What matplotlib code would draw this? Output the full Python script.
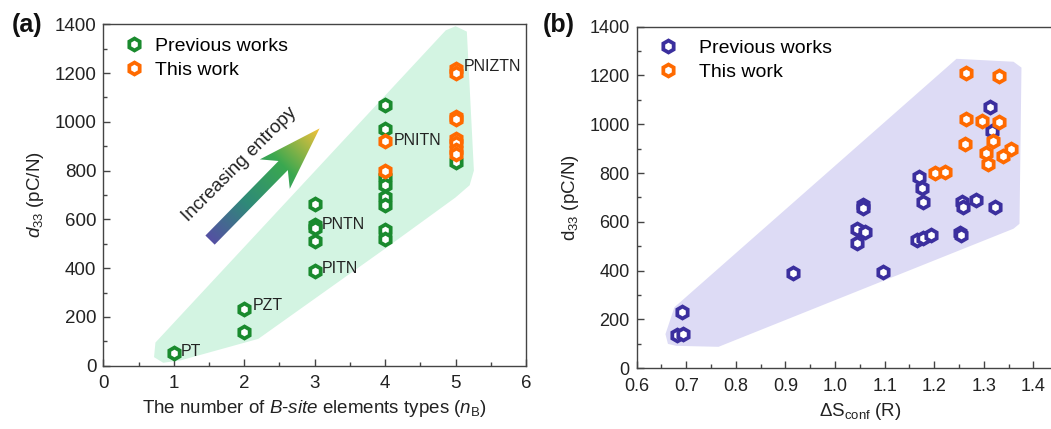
import matplotlib
matplotlib.use("Agg")
import matplotlib.pyplot as plt
import numpy as np
from matplotlib.patches import Polygon
from matplotlib.colors import LinearSegmentedColormap
from matplotlib.ticker import MultipleLocator, FormatStrFormatter

plt.rcParams['font.family'] = ['Liberation Sans', 'DejaVu Sans']
plt.rcParams['mathtext.fontset'] = 'custom'
plt.rcParams['mathtext.rm'] = 'Liberation Sans'
plt.rcParams['mathtext.it'] = 'Liberation Sans:italic'
plt.rcParams['font.size'] = 13.5

# ---- panel (a): d33 vs number of B-site element types
prev_nb = [1, 2, 2, 3, 3, 3, 3, 3, 4, 4, 4, 4, 4, 4, 4, 4, 5]
prev_d33_a = [50, 231, 137, 663, 575, 565, 510, 390,
              1070, 970, 775, 740, 690, 660, 556, 520, 836]
this_nb = [4, 4, 5, 5, 5, 5, 5, 5, 5, 5]
this_d33_a = [920, 800, 1215, 1200, 1020, 1010, 930, 915, 885, 870]
labels_a = ["PT", "PZT", "PNTN", "PITN", "PNITN", "PNIZTN"]
labels_x = [1.1, 2.12, 3.1, 3.1, 4.12, 5.12]
labels_y = [60, 245, 580, 400, 925, 1225]
hull_a = [(0.72, 35), (0.85, 12), (1.1, 22), (2.2, 110), (4.0, 480), (5.0, 690),
          (5.2, 740), (5.26, 800), (5.16, 1370), (5.0, 1392), (4.86, 1375), (0.74, 95)]

# ---- panel (b): d33 vs configurational entropy
prev_s = [0.681, 0.693, 0.691, 0.916, 1.096, 1.044, 1.045, 1.061, 1.056, 1.057,
          1.170, 1.175, 1.177, 1.165, 1.178, 1.193, 1.253, 1.254, 1.257, 1.258,
          1.285, 1.322, 1.312, 1.316]
prev_d33_b = [136, 141, 232, 392, 396, 512, 570, 560, 669, 657,
              785, 737, 683, 526, 533, 546, 556, 546, 683, 662,
              690, 662, 1069, 973]
this_s = [1.265, 1.331, 1.265, 1.296, 1.331, 1.319, 1.262, 1.304, 1.354, 1.338,
          1.309, 1.201, 1.222]
this_d33_b = [1209, 1199, 1020, 1014, 1010, 931, 919, 881, 897, 870, 836, 801, 805]
hull_b = [(0.663, 100), (0.658, 140), (0.676, 250), (1.245, 1268), (1.36, 1256),
          (1.376, 1232), (1.372, 592), (1.36, 572), (0.765, 88), (0.68, 92)]

green = '#1a8a2e'
orange = '#ff6a00'
blue = '#3b2f9e'
ink = '#222222'

fig = plt.figure(figsize=(10.51, 4.29), dpi=100)
ax1 = fig.add_axes([0.0983, 0.1476, 0.4022, 0.7958])
ax2 = fig.add_axes([0.6058, 0.1415, 0.4246, 0.7965])


def style_axes(ax):
    for s in ax.spines.values():
        s.set_color('#444444')
        s.set_linewidth(1.0)
    ax.tick_params(which='both', direction='in', top=False, right=False,
                   colors='#444444', labelcolor=ink)
    ax.tick_params(which='major', length=5, width=1)
    ax.tick_params(which='minor', length=3, width=1)
    ax.tick_params(axis='y', pad=5)
    ax.tick_params(axis='x', pad=7)


mk = dict(marker='h', linestyle='none', markersize=8.6, markeredgewidth=2.7,
          markerfacecolor='white')

# (a)
ax1.add_patch(Polygon(hull_a, closed=True, facecolor='#d3f4e2', edgecolor='none',
                      joinstyle='round', zorder=0))
ax1.plot(prev_nb, prev_d33_a, color=green, markeredgecolor=green, label='Previous works', **mk)
ax1.plot(this_nb, this_d33_a, color=orange, markeredgecolor=orange, label='This work', **mk)
for t, x, y in zip(labels_a, labels_x, labels_y):
    ax1.text(x, y, t, fontsize=11.5, color=ink, va='center', ha='left')
ax1.set_xlim(0, 6)
ax1.set_ylim(0, 1400)
ax1.xaxis.set_major_locator(MultipleLocator(1))
ax1.xaxis.set_minor_locator(MultipleLocator(0.5))
ax1.yaxis.set_major_locator(MultipleLocator(200))
ax1.yaxis.set_minor_locator(MultipleLocator(100))
style_axes(ax1)
ax1.set_xlabel('The number of $B$-$site$ elements types ($n_{\\rm B}$)', labelpad=4, color=ink)
ax1.set_ylabel('$d_{33}$ (pC/N)', labelpad=6, color=ink)
ax1.legend(loc='upper left', frameon=False, handletextpad=0.5, borderaxespad=0.25,
           labelspacing=0.35, handlelength=1.2, bbox_to_anchor=(0.015, 1.0), fontsize=14)

# gradient arrow "Increasing entropy" built in pixel space
tail = ax1.transData.transform((1.515, 515))
tip = ax1.transData.transform((3.07, 973))
d = (tip - tail) / np.hypot(*(tip - tail))
n = np.array([-d[1], d[0]])
L = np.hypot(*(tip - tail))
sw, hw, hl, back = 6.5, 21.0, 52.0, 12.0
pts = [tail + n * sw, tail + d * (L - hl) + n * sw, tail + d * (L - hl - back) + n * hw,
       tip, tail + d * (L - hl - back) - n * hw, tail + d * (L - hl) - n * sw, tail - n * sw]
pts_data = ax1.transData.inverted().transform(np.array(pts))
arrow = Polygon(pts_data, closed=True, facecolor='none', edgecolor='none',
                transform=ax1.transData)
ax1.add_patch(arrow)
x0, y0 = pts_data.min(axis=0)
x1, y1 = pts_data.max(axis=0)
gx, gy = np.meshgrid(np.linspace(x0, x1, 200), np.linspace(y0, y1, 200))
disp = ax1.transData.transform(np.column_stack([gx.ravel(), gy.ravel()]))
proj = ((disp - tail) @ d).reshape(gx.shape) / L
cmap = LinearSegmentedColormap.from_list('ent', ['#5550a3', '#2f8a78', '#3aa850', '#f4c23a'])
im = ax1.imshow(proj, extent=(x0, x1, y0, y1), origin='lower', cmap=cmap,
                vmin=0, vmax=1, aspect='auto', zorder=1)
im.set_clip_path(arrow)
ax1.text(1.93, 825, 'Increasing entropy', rotation=45, rotation_mode='anchor',
         ha='center', va='center', fontsize=13.5, color=ink)

# (b)
ax2.add_patch(Polygon(hull_b, closed=True, facecolor='#dddbf5', edgecolor='none', zorder=0))
ax2.plot(prev_s, prev_d33_b, color=blue, markeredgecolor=blue, label='Previous works', **mk)
ax2.plot(this_s, this_d33_b, color=orange, markeredgecolor=orange, label='This work', **mk)
ax2.set_xlim(0.6, 1.5)
ax2.set_ylim(0, 1400)
ax2.set_xticks(np.arange(0.6, 1.45, 0.1))
ax2.xaxis.set_minor_locator(MultipleLocator(0.05))
ax2.yaxis.set_major_locator(MultipleLocator(200))
ax2.yaxis.set_minor_locator(MultipleLocator(100))
ax2.xaxis.set_major_formatter(FormatStrFormatter('%.1f'))
style_axes(ax2)
ax2.tick_params(axis='both', labelsize=13)
ax2.set_xlabel('ΔS$_{\\rm conf}$ (R)', labelpad=4, color=ink)
ax2.set_ylabel('d$_{33}$ (pC/N)', labelpad=6, color=ink)
ax2.legend(loc='upper left', frameon=False, handletextpad=1.0, borderaxespad=0.25,
           labelspacing=0.35, handlelength=1.2, bbox_to_anchor=(0.015, 1.0), fontsize=14)

fig.text(12 / 1051, 1 - 25 / 429, '(a)', fontsize=18, fontweight='bold', va='center', color='#111111')
fig.text(543 / 1051, 1 - 25 / 429, '(b)', fontsize=18, fontweight='bold', va='center', color='#111111')

fig.savefig('out.png', dpi=100)
